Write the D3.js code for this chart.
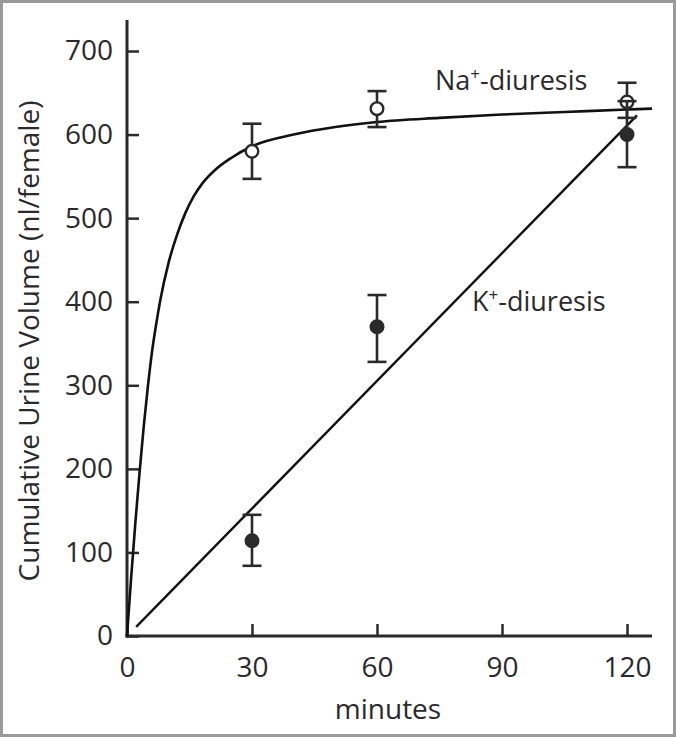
<!DOCTYPE html>
<html><head><meta charset="utf-8">
<script src="https://cdn.jsdelivr.net/npm/d3@7/dist/d3.min.js"></script>
<style>
html,body{margin:0;padding:0;background:#fff;}
svg{display:block;}
text{font-family:"Open Sans","Noto Sans",sans-serif;fill:#2a2a2a;}
</style></head><body>
<svg id="c" width="676" height="737"></svg>
<script>
// Data
const xTicks = [0, 30, 60, 90, 120];
const yTicks = [0, 100, 200, 300, 400, 500, 600, 700];
const naTime = [30, 60, 120];
const naMean = [580, 631, 639];
const naLow  = [547, 609, 620];
const naHigh = [613, 652, 662];
const kTime = [30, 60, 120];
const kMean = [114, 370, 600];
const kLow  = [84, 328, 561];
const kHigh = [145, 408, 640];
// fitted curves as drawn in the figure
const naCurveT = [0, 1, 2, 3, 4, 5, 6, 7, 8, 10, 12, 14, 16, 18, 21, 25, 30, 40, 50, 60, 75, 90, 105, 120, 126];
const naCurveV = [0, 70, 135, 195, 250, 298, 340, 373, 402, 447, 480, 506, 526, 541, 557, 572, 586, 600, 609, 615, 620, 624, 627, 630, 631];
const kLineT = [2.2, 122.4];
const kLineV = [11, 623];

const svg = d3.select("#c");
const W = 676, H = 737;
svg.append("rect").attr("x",1.5).attr("y",1.5).attr("width",W-3).attr("height",H-3)
  .attr("fill","#fff").attr("stroke","#9a9a9a").attr("stroke-width",3);

const x = d3.scaleLinear().domain([0,126]).range([127, 652]);
const y = d3.scaleLinear().domain([0,700]).range([636, 51]);
const ink = "#2a2a2a";
const FS = 28;

// axes
const yAxis = d3.axisLeft(y).tickValues(yTicks).tickSize(-12).tickPadding(14);
const gy = svg.append("g").attr("transform","translate(127,0)").call(yAxis);
gy.select(".domain").remove();
gy.selectAll(".tick line").attr("stroke",ink).attr("stroke-width",2.5);
gy.selectAll(".tick text").attr("font-size",FS).attr("fill",ink).attr("font-family",null);
svg.append("line").attr("x1",127).attr("x2",127).attr("y1",20).attr("y2",637.5)
  .attr("stroke",ink).attr("stroke-width",3);

const xAxis = d3.axisBottom(x).tickValues(xTicks).tickSize(-12).tickPadding(21);
const gx = svg.append("g").attr("transform","translate(0,636)").call(xAxis);
gx.select(".domain").remove();
gx.selectAll(".tick line").attr("stroke",ink).attr("stroke-width",2.5);
gx.selectAll(".tick text").attr("font-size",FS).attr("fill",ink).attr("font-family",null);
svg.append("line").attr("x1",125.5).attr("x2",652).attr("y1",636).attr("y2",636)
  .attr("stroke",ink).attr("stroke-width",3);

// axis titles
svg.append("text").attr("x",388).attr("y",719).attr("text-anchor","middle")
  .attr("font-size",FS).text("minutes");
svg.append("text").attr("transform","translate(39,341) rotate(-90)")
  .attr("text-anchor","middle").attr("font-size",28)
  .text("Cumulative Urine Volume (nl/female)");

// curves
const naPts = naCurveT.map((t,i)=>[t,naCurveV[i]]);
svg.append("path").datum(naPts)
  .attr("d", d3.line().x(d=>x(d[0])).y(d=>y(d[1])).curve(d3.curveMonotoneX))
  .attr("fill","none").attr("stroke","#111").attr("stroke-width",2.6);
const kPts = kLineT.map((t,i)=>[t,kLineV[i]]);
svg.append("path").datum(kPts)
  .attr("d", d3.line().x(d=>x(d[0])).y(d=>y(d[1])))
  .attr("fill","none").attr("stroke","#111").attr("stroke-width",2.4);

// error bars + points
function drawSeries(ts, ms, lo, hi, filled){
  const g = svg.append("g");
  ts.forEach((t,i)=>{
    const cx = x(t);
    g.append("line").attr("x1",cx).attr("x2",cx).attr("y1",y(lo[i])).attr("y2",y(hi[i]))
      .attr("stroke",ink).attr("stroke-width",2.6);
    [lo[i],hi[i]].forEach(v=>{
      g.append("line").attr("x1",cx-9.5).attr("x2",cx+9.5).attr("y1",y(v)).attr("y2",y(v))
        .attr("stroke",ink).attr("stroke-width",2.6);
    });
    g.append("circle").attr("cx",cx).attr("cy",y(ms[i]))
      .attr("r", filled?7.5:6.3)
      .attr("fill", filled?ink:"#fff").attr("stroke",ink).attr("stroke-width",filled?0:2.4);
  });
}
drawSeries(naTime, naMean, naLow, naHigh, false);
drawSeries(kTime, kMean, kLow, kHigh, true);

// labels
const na = svg.append("text").attr("x",435).attr("y",90).attr("font-size",27);
na.append("tspan").text("Na");
na.append("tspan").attr("font-size",17).attr("dy",-10).text("+");
na.append("tspan").attr("dy",10).text("-diuresis");
const k = svg.append("text").attr("x",472).attr("y",311).attr("font-size",27);
k.append("tspan").text("K");
k.append("tspan").attr("font-size",17).attr("dy",-10).text("+");
k.append("tspan").attr("dy",10).text("-diuresis");
</script>
</body></html>
